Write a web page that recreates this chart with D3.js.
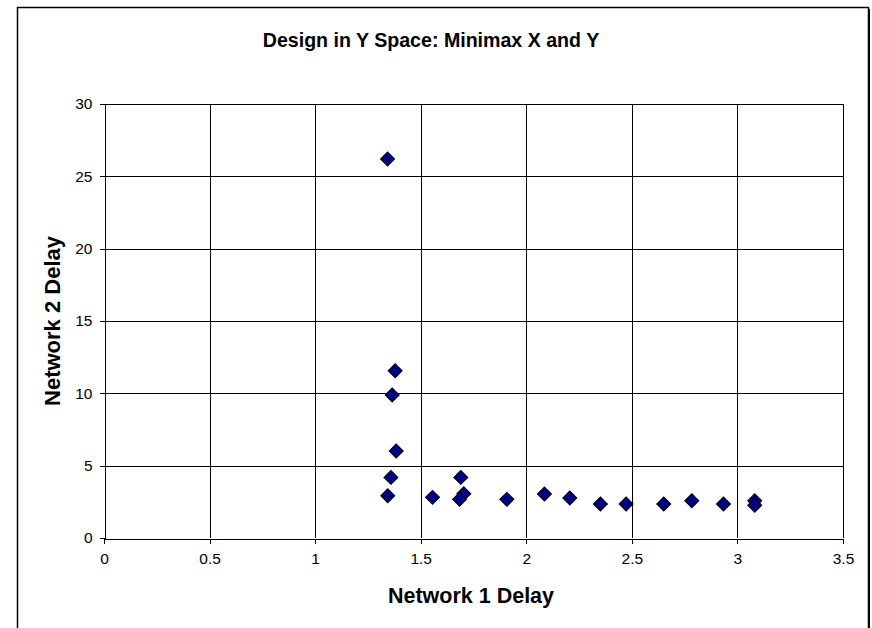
<!DOCTYPE html>
<html>
<head>
<meta charset="utf-8">
<script src="https://cdn.jsdelivr.net/npm/d3@7"></script>
<style>
  html, body { margin: 0; padding: 0; background: #fff; }
  svg { display: block; font-family: "Liberation Sans", Arial, sans-serif; }
</style>
</head>
<body>
<svg id="chart" width="872" height="628"></svg>
<script>
// Design points: network 1 delay vs network 2 delay
const net1Delay = [1.343, 1.379, 1.365, 1.384, 1.359, 1.344, 1.556, 1.690, 1.704, 1.684,
                   1.908, 2.086, 2.206, 2.351, 2.473, 2.651, 2.784, 2.934, 3.082, 3.082];
const net2Delay = [26.2, 11.56, 9.88, 6.01, 4.19, 2.92, 2.81, 4.19, 3.06, 2.67,
                   2.67, 3.04, 2.76, 2.35, 2.35, 2.35, 2.58, 2.35, 2.58, 2.26];
const xTicks = [0, 0.5, 1, 1.5, 2, 2.5, 3, 3.5];
const yTicks = [0, 5, 10, 15, 20, 25, 30];

const titleText = "Design in Y Space: Minimax X and Y";
const xTitle = "Network 1 Delay";
const yTitle = "Network 2 Delay";

const svg = d3.select("#chart");
const plot = { left: 104, right: 843, top: 104, bottom: 538 };

const x = d3.scaleLinear().domain([0, 3.5]).range([plot.left, plot.right]);
const y = d3.scaleLinear().domain([0, 30]).range([plot.bottom, plot.top]);

// Outer chart frame with a slight shadow on the right
svg.append("rect")
  .attr("x", 17.5).attr("y", 7.5).attr("width", 851).attr("height", 640)
  .attr("fill", "#fff").attr("stroke", "#000").attr("stroke-width", 1.5);
svg.append("line")
  .attr("x1", 869.5).attr("x2", 869.5).attr("y1", 9).attr("y2", 628)
  .attr("stroke", "#000").attr("stroke-width", 1);

// Gridlines
const grid = svg.append("g").attr("shape-rendering", "crispEdges");
grid.selectAll("line.h").data(yTicks.filter(d => d > 0)).join("line")
  .attr("class", "h")
  .attr("x1", plot.left).attr("x2", plot.right)
  .attr("y1", d => Math.round(y(d)) + 0.5).attr("y2", d => Math.round(y(d)) + 0.5)
  .attr("stroke", "#000");
grid.selectAll("line.v").data(xTicks.filter(d => d > 0)).join("line")
  .attr("class", "v")
  .attr("y1", plot.top).attr("y2", plot.bottom)
  .attr("x1", d => Math.round(x(d)) + 0.5).attr("x2", d => Math.round(x(d)) + 0.5)
  .attr("stroke", "#000");

// Axes
const xAxis = svg.append("g")
  .attr("transform", `translate(0,${Math.round(plot.bottom) + 0.5})`)
  .call(d3.axisBottom(x).tickValues(xTicks).tickSize(5).tickPadding(9)
        .tickFormat(d3.format("")).tickSizeOuter(0));
const yAxis = svg.append("g")
  .attr("transform", `translate(${Math.round(plot.left) + 0.5},0)`)
  .call(d3.axisLeft(y).tickValues(yTicks).tickSize(5).tickPadding(7)
        .tickFormat(d3.format("")).tickSizeOuter(0));
[xAxis, yAxis].forEach(a => {
  a.attr("shape-rendering", "crispEdges")
   .attr("font-family", "'Liberation Sans', Arial, sans-serif")
   .attr("font-size", 15.5);
  a.select(".domain").attr("stroke", "#000");
  a.selectAll(".tick line").attr("stroke", "#000");
  a.selectAll(".tick text").attr("fill", "#000");
});

// Markers: navy diamonds
svg.append("g").selectAll("path").data(net1Delay.map((d, i) => [d, net2Delay[i]])).join("path")
  .attr("d", d3.symbol().type(d3.symbolSquare).size(98)())
  .attr("transform", d => `translate(${x(d[0])},${y(d[1])}) rotate(45)`)
  .attr("fill", "#000080").attr("stroke", "#000").attr("stroke-width", 1);

// Titles
svg.append("text")
  .attr("x", 431).attr("y", 47).attr("text-anchor", "middle")
  .attr("font-size", 19.6).attr("font-weight", "bold").text(titleText);
svg.append("text")
  .attr("x", 471).attr("y", 603).attr("text-anchor", "middle")
  .attr("font-size", 21.5).attr("font-weight", "bold").text(xTitle);
svg.append("text")
  .attr("transform", `translate(60,${(plot.top + plot.bottom) / 2}) rotate(-90)`)
  .attr("text-anchor", "middle")
  .attr("font-size", 22).attr("font-weight", "bold").text(yTitle);
</script>
</body>
</html>
